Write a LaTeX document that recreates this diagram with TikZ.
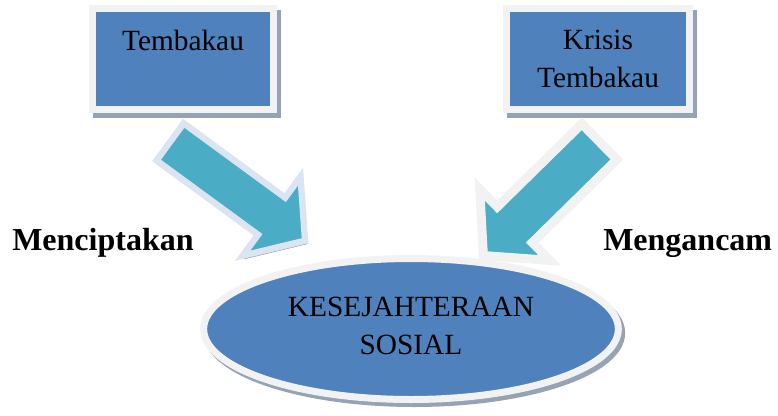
\documentclass[tikz,border=0pt]{standalone}
\usepackage{fontspec}
\setmainfont{Liberation Serif}
\usetikzlibrary{shapes.geometric}

\definecolor{boxblue}{HTML}{4F81BD}
\definecolor{framegray}{HTML}{F2F2F2}
\definecolor{framelightblue}{HTML}{DBE5F1}
\definecolor{arrowteal}{HTML}{4BACC6}
\definecolor{shadowgray}{HTML}{95A3B4}

\tikzset{
  shadowed/.style={preaction={draw=shadowgray, fill=shadowgray,
      transform canvas={shift={(#1)}}}},
  kotak/.style={rectangle, draw=framegray, fill=boxblue, line width=5.25pt,
      minimum height=75.75pt, inner sep=0pt, align=center,
      font=\fontsize{22}{28.5}\selectfont, shadowed={3pt,-4pt}},
  panah/.style={fill=arrowteal, line join=miter, shadowed={1.6pt,-2.3pt}},
  label/.style={inner sep=0pt, anchor=base west,
      font=\fontsize{24}{28}\selectfont\bfseries},
}

\begin{document}
\begin{tikzpicture}[x=0.75pt, y=-0.75pt]
    \useasboundingbox (0,0) rectangle (778,415);

    % kotak atas
    \node[kotak, minimum width=135.75pt, text depth=28.5pt] (tembakau) at (183,59) {Tembakau};
    \node[kotak, minimum width=137.25pt] (krisis) at (598,59) {Krisis\\Tembakau};

    % panah kiri
    \begin{scope}[shift={(167.5,140)}, rotate=-36.2]
        \draw[panah, draw=framelightblue, line width=4.8pt]
            (3.2,-23) -- (129,-23) -- (129,-49) -- (170.5,0)
            -- (129,49) -- (129,23) -- (3.2,23) -- cycle;
    \end{scope}

    % panah kanan
    \begin{scope}[shift={(602.5,138.5)}, rotate=224.5]
        \draw[panah, draw=framegray, line width=6.75pt]
            (4.5,-25) -- (123,-25) -- (123,-50) -- (167,0)
            -- (123,50) -- (123,25) -- (4.5,25) -- cycle;
    \end{scope}

    % elips
    \node[ellipse, draw=framegray, fill=boxblue, line width=5.25pt,
        minimum width=311pt, minimum height=105.75pt, inner sep=0pt,
        align=center, font=\fontsize{22}{28.5}\selectfont,
        shadowed={2.5pt,-3pt}] (sosial) at (411,329)
        {KESEJAHTERAAN\\SOSIAL\vphantom{g}};

    % keterangan
    \node[label] (menciptakan) at (12,250) {Menciptakan};
    \node[label] (mengancam) at (603,250) {Mengancam};
\end{tikzpicture}
\end{document}
